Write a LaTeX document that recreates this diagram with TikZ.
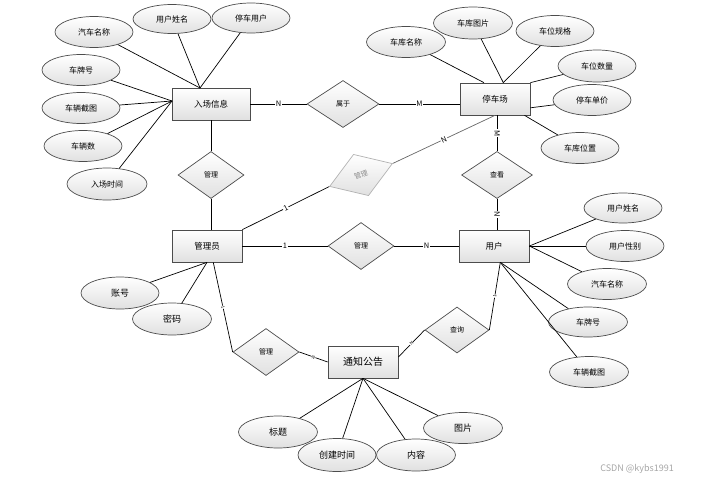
\documentclass[tikz,border=0pt]{standalone}
\usepackage{fontspec}
\setmainfont{Noto Sans CJK SC}
\usetikzlibrary{shapes.geometric}

\tikzset{
  ent/.style={draw=black!70,top color=white,bottom color=black!12,minimum width=70pt,minimum height=32pt,inner sep=0pt,font=\fontsize{8.5}{10}\selectfont},
  attr/.style={draw=black!70,ellipse,top color=white,bottom color=black!12,minimum width=78pt,minimum height=31pt,inner sep=0pt,font=\fontsize{8}{10}\selectfont},
  rel/.style={draw=black!70,diamond,top color=white,bottom color=black!12,minimum width=66pt,minimum height=47pt,inner sep=0pt,font=\fontsize{7}{8}\selectfont},
  card/.style={fill=white,inner sep=0.8pt,font=\fontsize{7.5}{8}\selectfont},
  tinycard/.style={fill=white,inner sep=0.3pt,sloped,font=\fontsize{4.5}{5}\selectfont},
}

\begin{document}
\begin{tikzpicture}[x=1pt,y=-1pt,line width=0.7pt]
    \useasboundingbox (0,0) rectangle (703,482);

    % entities
    \node[ent,minimum width=78pt] (rcxx) at (211,104) {入场信息};
    \node[ent] (tcc) at (495,99) {停车场};
    \node[ent] (gly) at (207,246) {管理员};
    \node[ent] (yh) at (494,246) {用户};
    \node[ent,font=\fontsize{10}{12}\selectfont] (tzgg) at (363,362) {通知公告};

    % relations
    \node[rel] (gl1) at (211,175) {管理};
    \node[rel,minimum width=72pt] (sy) at (343,104) {属于};
    \node[rel,draw=black!30,text=black!45,rotate=20,minimum height=44pt,minimum width=67pt] (gl2) at (361,175) {管理};
    \node[rel,minimum width=71pt] (ck) at (497,175) {查看};
    \node[rel] (gl3) at (361,246) {管理};
    \node[rel] (gl4) at (266,352) {管理};
    \node[rel,minimum width=64pt,minimum height=46pt] (cx) at (457,330) {查询};

    % attributes of 入场信息
    \node[attr] (rcQcmc) at (94,32) {汽车名称};
    \node[attr,minimum height=29pt] (rcYhxm) at (172,19) {用户姓名};
    \node[attr,minimum height=30pt] (rcTcyh) at (251,18) {停车用户};
    \node[attr] (rcCph) at (81,70) {车牌号};
    \node[attr] (rcCljt) at (81,108) {车辆截图};
    \node[attr] (rcCls) at (83,146) {车辆数};
    \node[attr,minimum width=80pt,minimum height=32pt] (rcRcsj) at (107,184) {入场时间};
    \coordinate (rcT) at (200,88);
    \coordinate (rcL) at (172,101);

    % attributes of 停车场
    \node[attr,minimum width=79pt] (tcCkmc) at (406,42) {车库名称};
    \node[attr,minimum width=79pt,minimum height=32pt] (tcCktp) at (473,23) {车库图片};
    \node[attr] (tcCwgg) at (555,31) {车位规格};
    \node[attr,minimum height=32pt] (tcCwsl) at (597,66) {车位数量};
    \node[attr] (tcTcdj) at (592,100) {停车单价};
    \node[attr] (tcCkwz) at (580,148) {车库位置};

    % attributes of 用户
    \node[attr,minimum height=30pt] (yhYhxm) at (623,208) {用户姓名};
    \node[attr] (yhYhxb) at (625,246) {用户性别};
    \node[attr,minimum width=79pt] (yhQcmc) at (607,284) {汽车名称};
    \node[attr,minimum width=79pt,minimum height=30pt] (yhCph) at (588,322) {车牌号};
    \node[attr,minimum width=79pt] (yhCljt) at (589,372) {车辆截图};

    % attributes of 管理员
    \node[attr,minimum height=32pt,font=\fontsize{9}{10}\selectfont] (glZh) at (120,293) {账号};
    \node[attr,minimum width=79pt,minimum height=32pt,font=\fontsize{9}{10}\selectfont] (glMm) at (172,319) {密码};

    % attributes of 通知公告
    \node[attr,minimum width=79pt,minimum height=32pt,font=\fontsize{9}{10}\selectfont] (tzBt) at (278,432) {标题};
    \node[attr,minimum height=33pt,font=\fontsize{9}{10}\selectfont] (tzCjsj) at (337,455) {创建时间};
    \node[attr,minimum width=79pt,minimum height=32pt,font=\fontsize{9}{10}\selectfont] (tzNr) at (416,455) {内容};
    \node[attr,minimum width=79pt,minimum height=31pt,font=\fontsize{9}{10}\selectfont] (tzTp) at (463,428) {图片};

    % attribute lines
    \draw (rcQcmc) -- (rcT);
    \draw (rcYhxm) -- (rcT);
    \draw (rcTcyh) -- (rcT);
    \draw (rcCph) -- (rcL);
    \draw (rcCljt) -- (rcL);
    \draw (rcCls) -- (rcL);
    \draw (rcRcsj) -- (rcL);

    \draw (tcCkmc) -- (tcc.124);
    \draw (tcCktp) -- (tcc.63);
    \draw (tcCwgg) -- (tcc.63);
    \draw (tcCwsl) -- (tcc.north east);
    \draw (tcTcdj) -- (tcc.-14);
    \draw (tcCkwz) -- (tcc.-29);

    \draw (yhYhxm) -- (yh.east);
    \draw (yhYhxb) -- (yh.east);
    \draw (yhQcmc) -- (yh.east);
    \draw (yhCph) -- (yh.-69);
    \draw (yhCljt) -- (yh.-69);

    \draw (glZh) -- (gly.south);
    \draw (glMm) -- (gly.south);

    \draw (tzBt) -- (tzgg.south);
    \draw (tzCjsj) -- (tzgg.south);
    \draw (tzNr) -- (tzgg.south);
    \draw (tzTp) -- (tzgg.south);

    % relation lines
    \draw (rcxx) -- (gl1);
    \draw (gl1.south) -- (gl1.south |- gly.north);
    \draw (rcxx) -- node[card]{N} (sy);
    \draw (sy) -- node[card]{M} (sy -| tcc.west);
    \draw (gly.north east) -- node[card,sloped]{1} (gl2.west);
    \draw[black!60] (gl2.east) -- node[card,sloped,text=black]{N} (tcc.south);
    \draw (tcc.south -| ck) -- node[card,rotate=-90]{M} (ck);
    \draw (ck) -- node[card,rotate=-90]{N} (yh.north -| ck);
    \draw (gly) -- node[card]{1} (gl3);
    \draw (gl3) -- node[card]{N} (yh);
    \draw (gly.-69) -- node[tinycard]{1} (gl4.west);
    \draw (gl4.east) -- node[tinycard]{N} (tzgg.west);
    \draw (tzgg.8) -- node[tinycard]{N} (cx.west);
    \draw (cx.east) -- node[tinycard]{1} (yh.-69);

    \node[text=black!35,font=\fontsize{9}{10}\selectfont] (wm) at (637,469) {CSDN @kybs1991};
\end{tikzpicture}
\end{document}
